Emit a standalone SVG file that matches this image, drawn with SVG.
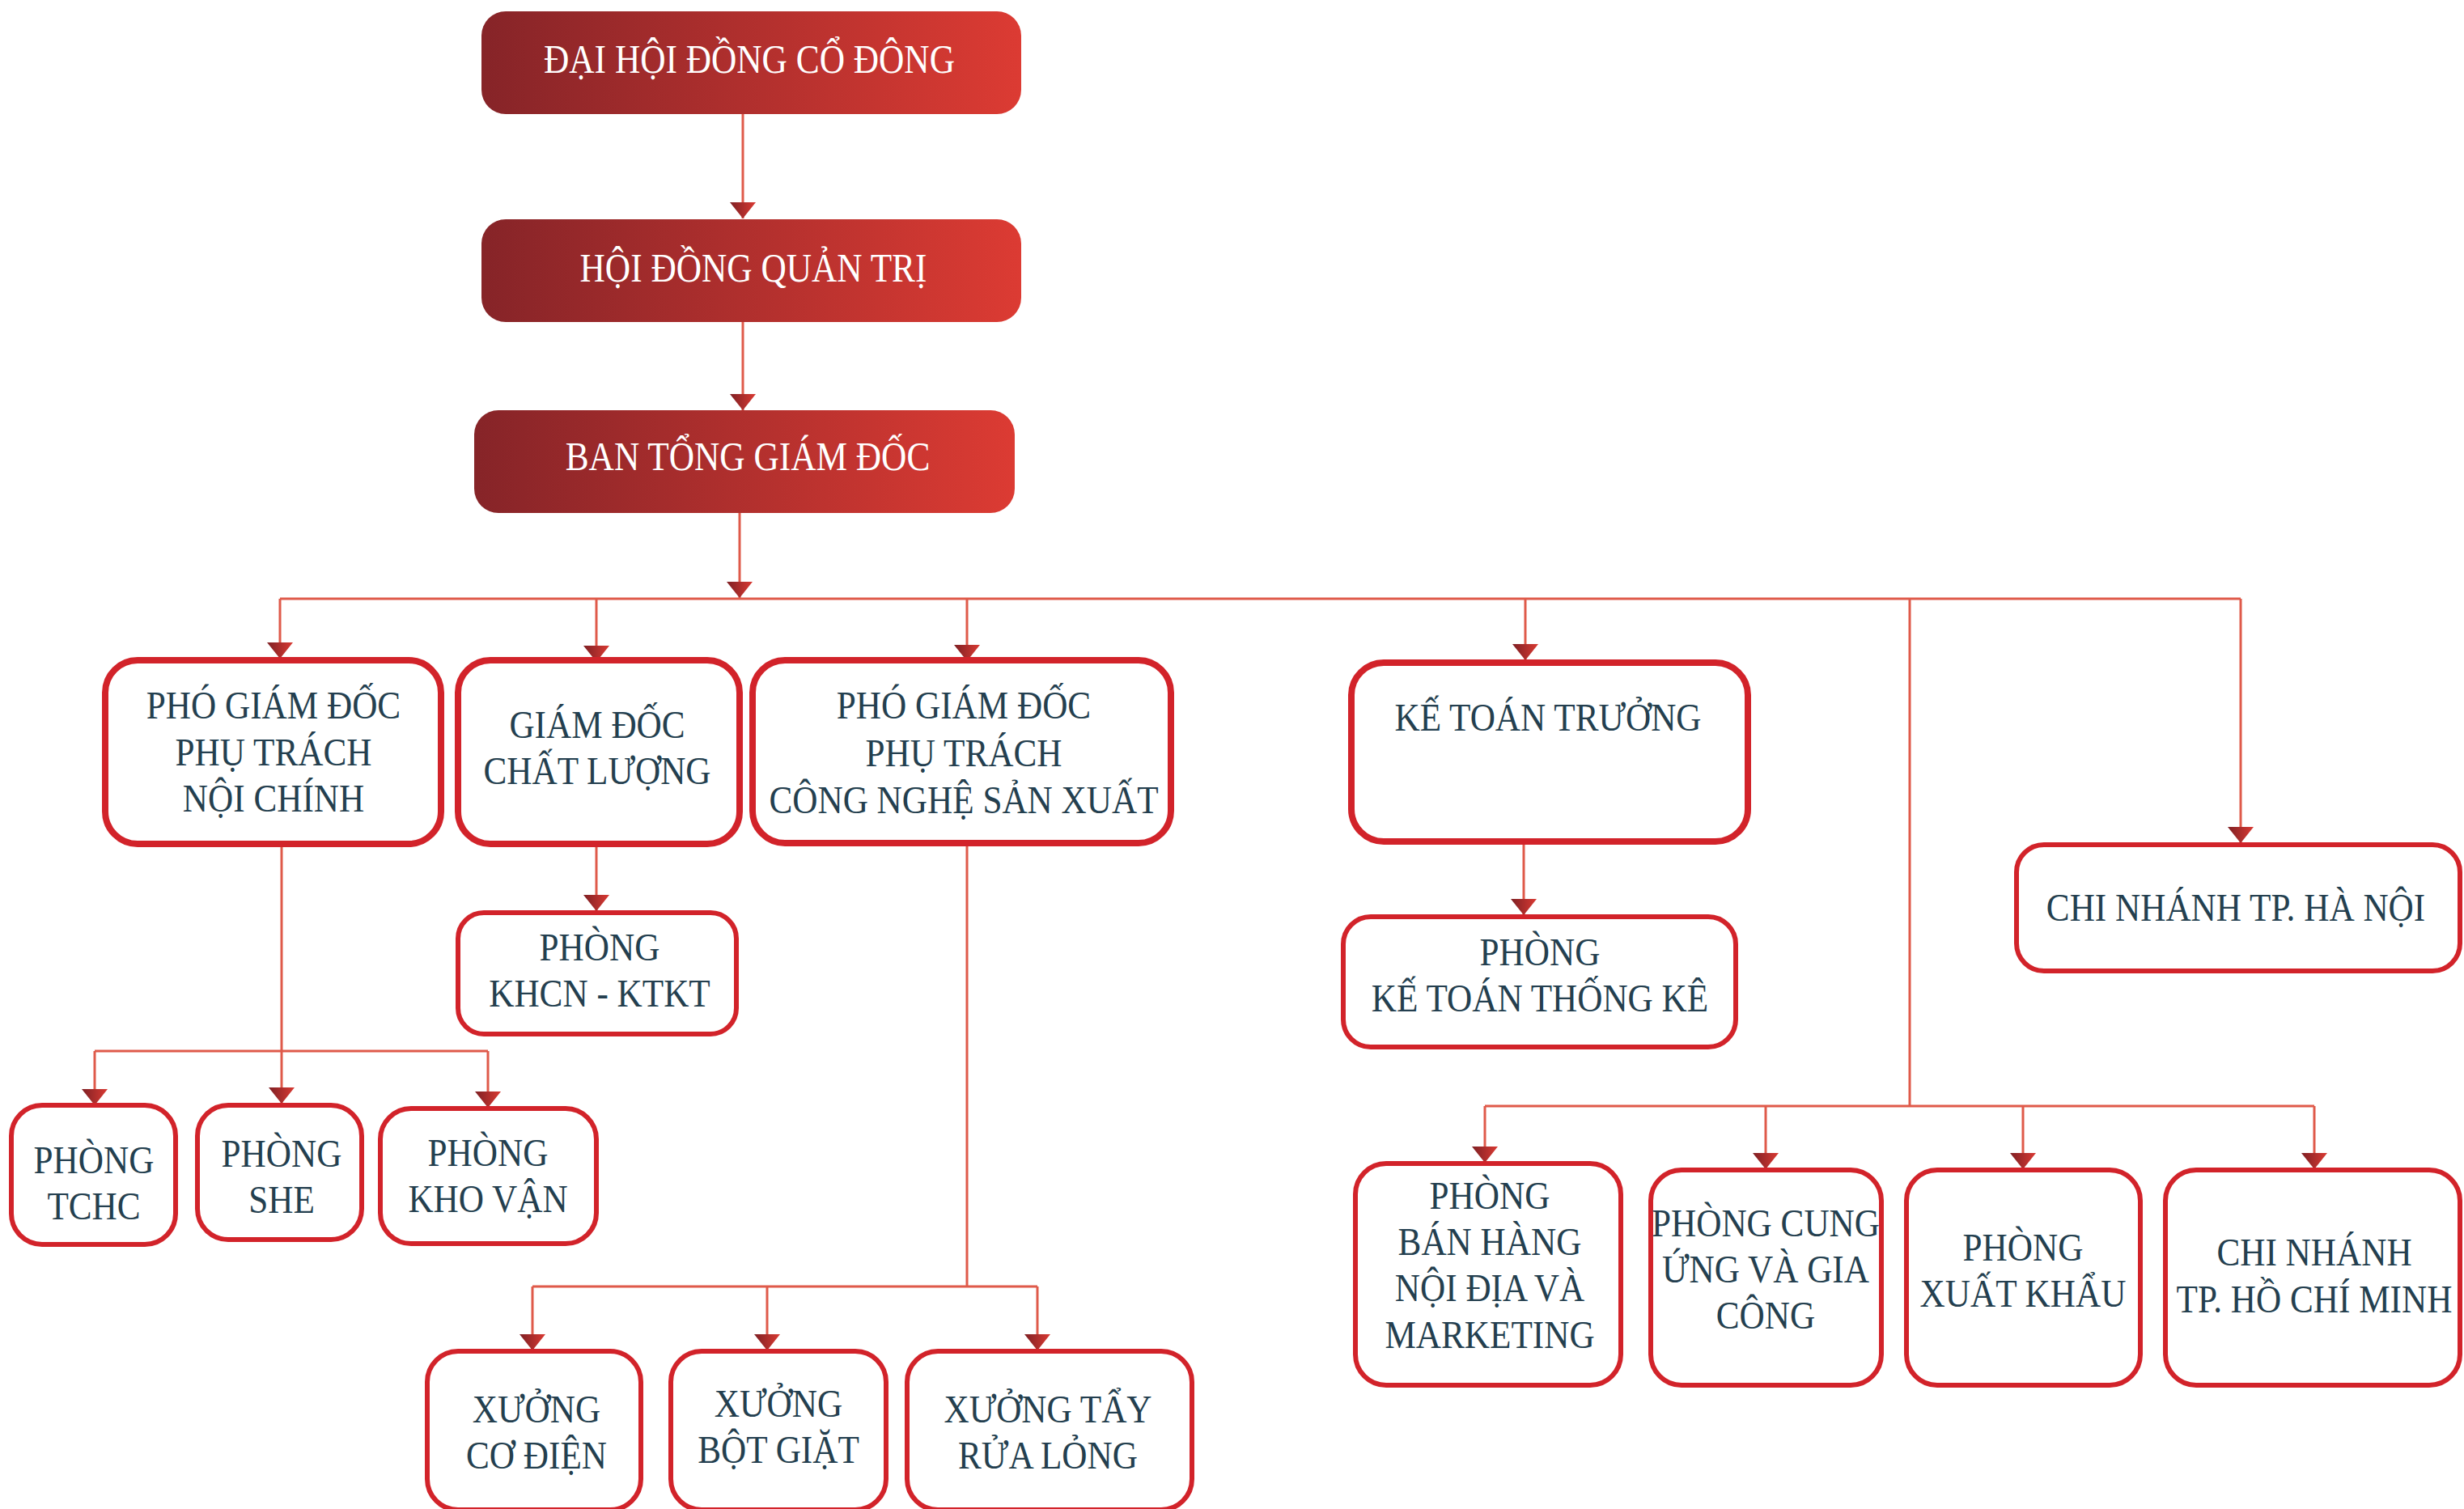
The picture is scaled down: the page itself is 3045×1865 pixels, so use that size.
<svg xmlns="http://www.w3.org/2000/svg" width="3045" height="1865" viewBox="0 0 3045 1865">
<defs>
<linearGradient id="gTop" x1="0" y1="0" x2="1" y2="0">
<stop offset="0" stop-color="#862428"/>
<stop offset="1" stop-color="#DC3B33"/>
</linearGradient>
<linearGradient id="gArr" x1="0" y1="0" x2="1" y2="0">
<stop offset="0" stop-color="#7E2024"/>
<stop offset="1" stop-color="#DA3A33"/>
</linearGradient>
<marker id="ah" markerUnits="userSpaceOnUse" viewBox="-17 -21 34 22" markerWidth="34" markerHeight="22" refX="0" refY="0" orient="0" overflow="visible">
<path d="M-16,-20 L16,-20 L0,0 Z" fill="url(#gArr)"/>
</marker>
<style>
.top{fill:url(#gTop);}
.b8{fill:#fff;stroke:#D2232A;stroke-width:8;}
.b6{fill:#fff;stroke:#D2232A;stroke-width:6;}
.w{font-family:"Liberation Serif","DejaVu Serif",serif;font-size:51px;fill:#fff;text-anchor:middle;}
.d{font-family:"Liberation Serif","DejaVu Serif",serif;font-size:48px;fill:#243F4F;text-anchor:middle;}
.c{fill:none;stroke:#DF5A4A;stroke-width:3;}
.a{marker-end:url(#ah);}
</style>
</defs>
<rect width="3045" height="1865" fill="#fff"/>

<g id="connectors">
<path class="c a" d="M918 141 V270"/>
<path class="c a" d="M918 398 V507"/>
<path class="c a" d="M914 634 V739"/>
<path class="c" d="M346 740 H2769"/>
<path class="c a" d="M346 740 V814"/>
<path class="c a" d="M737 740 V818"/>
<path class="c a" d="M1195 740 V817"/>
<path class="c a" d="M1885 740 V816"/>
<path class="c a" d="M2769 740 V1042"/>
<path class="c" d="M2360 740 V1367"/>
<path class="c a" d="M737 1047 V1126"/>
<path class="c" d="M348 1047 V1299"/>
<path class="c" d="M117 1299 H603"/>
<path class="c a" d="M117 1299 V1366"/>
<path class="c a" d="M348 1299 V1364"/>
<path class="c a" d="M603 1299 V1369"/>
<path class="c" d="M1195 1046 V1590"/>
<path class="c" d="M658 1590 H1282"/>
<path class="c a" d="M658 1590 V1669"/>
<path class="c a" d="M948 1590 V1669"/>
<path class="c a" d="M1282 1590 V1669"/>
<path class="c a" d="M1883 1044 V1131"/>
<path class="c" d="M1835 1367 H2860"/>
<path class="c a" d="M1835 1367 V1437"/>
<path class="c a" d="M2182 1367 V1445"/>
<path class="c a" d="M2500 1367 V1445"/>
<path class="c a" d="M2860 1367 V1445"/>
</g>

<g id="dai-hoi-dong-co-dong">
<rect class="top" x="595" y="14" width="667" height="127" rx="30"/>
<text class="w" transform="translate(926 0) scale(0.85 1)"><tspan x="0" y="90">ĐẠI HỘI ĐỒNG CỔ ĐÔNG</tspan></text>
</g>
<g id="hoi-dong-quan-tri">
<rect class="top" x="595" y="271" width="667" height="127" rx="30"/>
<text class="w" transform="translate(931 0) scale(0.85 1)"><tspan x="0" y="348">HỘI ĐỒNG QUẢN TRỊ</tspan></text>
</g>
<g id="ban-tong-giam-doc">
<rect class="top" x="586" y="507" width="668" height="127" rx="30"/>
<text class="w" transform="translate(924 0) scale(0.85 1)"><tspan x="0" y="581">BAN TỔNG GIÁM ĐỐC</tspan></text>
</g>

<g id="pgd-noi-chinh">
<rect class="b8" x="130" y="816" width="415" height="227" rx="40"/>
<text class="d" transform="translate(338 0) scale(0.9 1)"><tspan x="0" y="888">PHÓ GIÁM ĐỐC</tspan><tspan x="0" y="946">PHỤ TRÁCH</tspan><tspan x="0" y="1003">NỘI CHÍNH</tspan></text>
</g>
<g id="gd-chat-luong">
<rect class="b8" x="566" y="816" width="348" height="227" rx="40"/>
<text class="d" transform="translate(738 0) scale(0.9 1)"><tspan x="0" y="912">GIÁM ĐỐC</tspan><tspan x="0" y="969">CHẤT LƯỢNG</tspan></text>
</g>
<g id="pgd-cnsx">
<rect class="b8" x="930" y="816" width="517" height="226" rx="40"/>
<text class="d" transform="translate(1191 0) scale(0.9 1)"><tspan x="0" y="888">PHÓ GIÁM ĐỐC</tspan><tspan x="0" y="947">PHỤ TRÁCH</tspan><tspan x="0" y="1005">CÔNG NGHỆ SẢN XUẤT</tspan></text>
</g>
<g id="ke-toan-truong">
<rect class="b8" x="1670" y="819" width="490" height="221" rx="40"/>
<text class="d" transform="translate(1913 0) scale(0.9 1)"><tspan x="0" y="903">KẾ TOÁN TRƯỞNG</tspan></text>
</g>
<g id="chi-nhanh-ha-noi">
<rect class="b6" x="2492" y="1044" width="548" height="156" rx="34"/>
<text class="d" transform="translate(2763 0) scale(0.9 1)"><tspan x="0" y="1138">CHI NHÁNH TP. HÀ NỘI</tspan></text>
</g>

<g id="phong-khcn-ktkt">
<rect class="b6" x="566" y="1128" width="344" height="150" rx="32"/>
<text class="d" transform="translate(741 0) scale(0.9 1)"><tspan x="0" y="1187">PHÒNG</tspan><tspan x="0" y="1244">KHCN - KTKT</tspan></text>
</g>
<g id="phong-ke-toan-thong-ke">
<rect class="b6" x="1660" y="1133" width="485" height="161" rx="34"/>
<text class="d" transform="translate(1903 0) scale(0.9 1)"><tspan x="0" y="1193">PHÒNG</tspan><tspan x="0" y="1250">KẾ TOÁN THỐNG KÊ</tspan></text>
</g>

<g id="phong-tchc">
<rect class="b6" x="14" y="1366" width="203" height="172" rx="38"/>
<text class="d" transform="translate(116 0) scale(0.9 1)"><tspan x="0" y="1450">PHÒNG</tspan><tspan x="0" y="1507">TCHC</tspan></text>
</g>
<g id="phong-she">
<rect class="b6" x="244" y="1366" width="203" height="166" rx="38"/>
<text class="d" transform="translate(348 0) scale(0.9 1)"><tspan x="0" y="1442">PHÒNG</tspan><tspan x="0" y="1499">SHE</tspan></text>
</g>
<g id="phong-kho-van">
<rect class="b6" x="470" y="1370" width="267" height="167" rx="38"/>
<text class="d" transform="translate(603 0) scale(0.9 1)"><tspan x="0" y="1441">PHÒNG</tspan><tspan x="0" y="1498">KHO VẬN</tspan></text>
</g>

<g id="xuong-co-dien">
<rect class="b6" x="528" y="1670" width="264" height="196" rx="38"/>
<text class="d" transform="translate(663 0) scale(0.9 1)"><tspan x="0" y="1758">XƯỞNG</tspan><tspan x="0" y="1815">CƠ ĐIỆN</tspan></text>
</g>
<g id="xuong-bot-giat">
<rect class="b6" x="829" y="1670" width="266" height="196" rx="38"/>
<text class="d" transform="translate(962 0) scale(0.9 1)"><tspan x="0" y="1751">XƯỞNG</tspan><tspan x="0" y="1808">BỘT GIẶT</tspan></text>
</g>
<g id="xuong-tay-rua-long">
<rect class="b6" x="1121" y="1670" width="352" height="196" rx="38"/>
<text class="d" transform="translate(1295 0) scale(0.9 1)"><tspan x="0" y="1758">XƯỞNG TẨY</tspan><tspan x="0" y="1815">RỬA LỎNG</tspan></text>
</g>

<g id="phong-ban-hang">
<rect class="b6" x="1675" y="1438" width="328" height="274" rx="38"/>
<text class="d" transform="translate(1841 0) scale(0.9 1)"><tspan x="0" y="1494">PHÒNG</tspan><tspan x="0" y="1551">BÁN HÀNG</tspan><tspan x="0" y="1608">NỘI ĐỊA VÀ</tspan><tspan x="0" y="1666">MARKETING</tspan></text>
</g>
<g id="phong-cung-ung">
<rect class="b6" x="2040" y="1446" width="285" height="266" rx="38"/>
<text class="d" transform="translate(2182 0) scale(0.9 1)"><tspan x="0" y="1528">PHÒNG CUNG</tspan><tspan x="0" y="1585">ỨNG VÀ GIA</tspan><tspan x="0" y="1642">CÔNG</tspan></text>
</g>
<g id="phong-xuat-khau">
<rect class="b6" x="2356" y="1446" width="289" height="266" rx="38"/>
<text class="d" transform="translate(2500 0) scale(0.9 1)"><tspan x="0" y="1558">PHÒNG</tspan><tspan x="0" y="1615">XUẤT KHẨU</tspan></text>
</g>
<g id="chi-nhanh-hcm">
<rect class="b6" x="2676" y="1446" width="364" height="266" rx="38"/>
<text class="d" transform="translate(2860 0) scale(0.9 1)"><tspan x="0" y="1564">CHI NHÁNH</tspan><tspan x="0" y="1622">TP. HỒ CHÍ MINH</tspan></text>
</g>
</svg>
